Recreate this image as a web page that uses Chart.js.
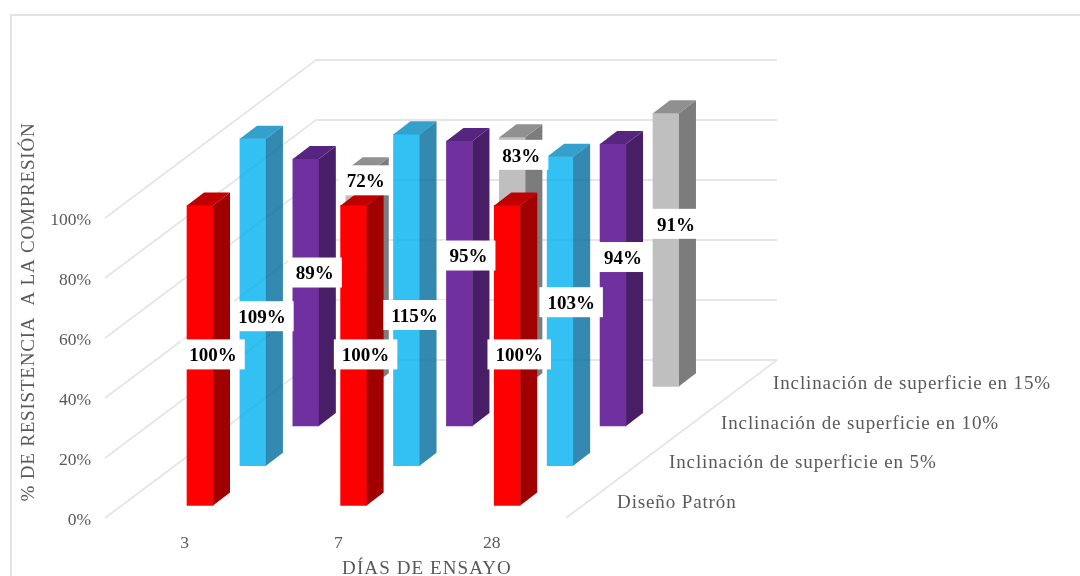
<!DOCTYPE html>
<html>
<head>
<meta charset="utf-8">
<title>Resistencia a la compresión</title>
<style>
  html, body { margin: 0; padding: 0; background: #fff; overflow: hidden; }
  canvas { display: block; }
</style>
<script src="https://cdn.jsdelivr.net/npm/chart.js@4"></script>
</head>
<body>
<canvas id="chart" width="1080" height="576"></canvas>
<script>
// =====================
// DATA
// =====================
const categories = ["3", "7", "28"];
const seriesNames = [
  "Diseño Patrón",
  "Inclinación de superficie en 5%",
  "Inclinación de superficie en 10%",
  "Inclinación de superficie en 15%"
];
const patron = [100, 100, 100];
const incl5 = [109, 115, 103];
const incl10 = [89, 95, 94];
const incl15 = [72, 83, 91];
const yTicks = [0, 20, 40, 60, 80, 100];

// the reference cuts the columns at this value (the 115% one stops here)
const axisCap = 110.5;

// =====================
// LOOK
// =====================
const FONT = '"Liberation Serif", "Times New Roman", serif';
const TEXT = "#595959";
const GRID = "#e6e6e6";

const faces = [
  { front: "#ff0000", top: "#c00000", side: "#a00000" },
  { front: "rgba(0,176,240,.8)", top: "rgba(0,137,190,.8)", side: "rgba(0,108,155,.8)" },
  { front: "#7030a0", top: "#552580", side: "#481f66" },
  { front: "#bfbfbf", top: "#909090", side: "#7c7c7c" }
];

// projection of the fake depth axis, in axis units
const depthX = 0.3445;
const depthY = 13.23;
const baseY = 4.2;
const xMin = -0.6185;
const wallX = 1.374;
const wallY = 52.67;
const wallRight = 3.7565;
const nameX = 2.715;
const nameY = 5;
const nameStepX = 0.3385;
const tickX = -0.1;
const tickY = -0.7;
const sideW = 17;
const sideH = 13;

// labels were dragged by hand in the original: px from the column centre
const labelNudge = [
  [[13, -1], [12, -1], [12, -1]],
  [[9, 14], [8, 15], [11, -9]],
  [[9, -20], [9, -28], [10, -28]],
  [[7, -98], [9, -107], [10, -26]]
];

// =====================
// PLUGINS
// =====================
function poly(ctx, pts, color) {
  ctx.fillStyle = color;
  ctx.beginPath();
  pts.forEach((p, i) => i ? ctx.lineTo(p[0], p[1]) : ctx.moveTo(p[0], p[1]));
  ctx.closePath();
  ctx.fill();
}

const walls = {
  id: "walls",
  beforeDatasetsDraw(chart) {
    const { ctx, chartArea, scales: { x, y } } = chart;
    const left = chartArea.left;
    const back = x.getPixelForValue(xMin + wallX);
    const right = x.getPixelForValue(wallRight);
    ctx.save();
    ctx.strokeStyle = GRID;
    ctx.lineWidth = 2;
    yTicks.forEach(v => {
      ctx.beginPath();
      ctx.moveTo(left, y.getPixelForValue(v));
      ctx.lineTo(back, y.getPixelForValue(v + wallY));
      ctx.lineTo(right, y.getPixelForValue(v + wallY));
      ctx.stroke();
    });
    // right edge of the floor
    ctx.beginPath();
    ctx.moveTo(right, y.getPixelForValue(wallY));
    ctx.lineTo(right - (back - left), y.getPixelForValue(0));
    ctx.stroke();
    ctx.restore();
  }
};

const columns = {
  id: "columns",
  afterDatasetDraw(chart, args) {
    const { ctx } = chart;
    const f = faces[args.index];
    chart.getDatasetMeta(args.index).data.forEach(bar => {
      const l = bar.x - bar.width / 2;
      const r = bar.x + bar.width / 2;
      poly(ctx, [[r, bar.y], [r + sideW, bar.y - sideH], [r + sideW, bar.base - sideH], [r, bar.base]], f.side);
      poly(ctx, [[l, bar.y], [l + sideW, bar.y - sideH], [r + sideW, bar.y - sideH], [r, bar.y]], f.top);
    });
  }
};

const labels = {
  id: "labels",
  afterDatasetsDraw(chart) {
    const { ctx, scales: { x, y } } = chart;
    ctx.save();

    // value labels
    ctx.font = "bold 19px " + FONT;
    ctx.textAlign = "center";
    ctx.textBaseline = "middle";
    chart.data.datasets.forEach((ds, d) => {
      chart.getDatasetMeta(d).data.forEach((bar, c) => {
        const txt = ds.values[c] + "%";
        const cx = bar.x + labelNudge[d][c][0];
        const cy = (bar.y + bar.base) / 2 + labelNudge[d][c][1];
        const w = ctx.measureText(txt).width + 16;
        ctx.fillStyle = "#fff";
        ctx.fillRect(cx - w / 2, cy - 15, w, 30);
        ctx.fillStyle = "#000";
        ctx.fillText(txt, cx, cy + 2);
      });
    });

    // series names along the depth axis
    ctx.font = "19px " + FONT;
    ctx.letterSpacing = "0.87px";
    ctx.fillStyle = TEXT;
    ctx.textAlign = "left";
    seriesNames.forEach((name, d) => {
      ctx.fillText(name, x.getPixelForValue(nameX + d * nameStepX), y.getPixelForValue(nameY + d * depthY));
    });

    // axis titles
    ctx.textAlign = "center";
    ctx.letterSpacing = "1.1px";
    ctx.fillText("DÍAS DE ENSAYO", 427, 569);
    ctx.letterSpacing = "0.8px";
    ctx.translate(29, 312);
    ctx.rotate(-Math.PI / 2);
    ctx.fillText("% DE RESISTENCIA  A LA COMPRESIÓN", 0, 0);
    ctx.restore();
  }
};

const frame = {
  id: "frame",
  beforeDraw(chart) {
    const { ctx } = chart;
    ctx.save();
    ctx.strokeStyle = "#dcdcdc";
    ctx.lineWidth = 1.5;
    ctx.beginPath();
    ctx.moveTo(11, 576);
    ctx.lineTo(11, 15);
    ctx.lineTo(1080, 15);
    ctx.stroke();
    ctx.restore();
  }
};

// =====================
// CHART
// =====================
const allSeries = [patron, incl5, incl10, incl15];

new Chart(document.getElementById("chart"), {
  type: "bar",
  data: {
    datasets: allSeries.map((values, d) => ({
      label: seriesNames[d],
      values: values,
      data: values.map((v, c) => ({
        x: c + d * depthX,
        y: [baseY + d * depthY, baseY + d * depthY + Math.min(v, axisCap)]
      })),
      backgroundColor: faces[d].front,
      borderWidth: 0,
      barThickness: 26,
      grouped: false
    }))
  },
  options: {
    responsive: false,
    animation: false,
    layout: { padding: { top: 38, right: 280, left: 0, bottom: 0 } },
    plugins: { legend: { display: false }, tooltip: { enabled: false } },
    scales: {
      x: {
        type: "linear",
        offset: false,
        min: xMin,
        max: 3.906,
        grid: { display: false },
        border: { display: false },
        afterFit(scale) { scale.height = 58; },
        afterBuildTicks(scale) {
          scale.ticks = categories.map((_, i) => ({ value: i + tickX }));
        },
        ticks: {
          autoSkip: false,
          maxRotation: 0,
          padding: 7,
          color: TEXT,
          font: { family: FONT, size: 17.5 },
          callback: (v, i) => categories[i]
        }
      },
      y: {
        min: 0,
        max: 160,
        grid: { display: false, drawTicks: false },
        border: { display: false },
        afterFit(scale) { scale.width = 105; },
        afterBuildTicks(scale) {
          scale.ticks = yTicks.map(v => ({ value: v + tickY }));
        },
        ticks: {
          padding: 14,
          color: TEXT,
          font: { family: FONT, size: 17.5 },
          callback: (v, i) => yTicks[i] + "%"
        }
      }
    }
  },
  plugins: [frame, walls, columns, labels]
});
</script>
</body>
</html>
